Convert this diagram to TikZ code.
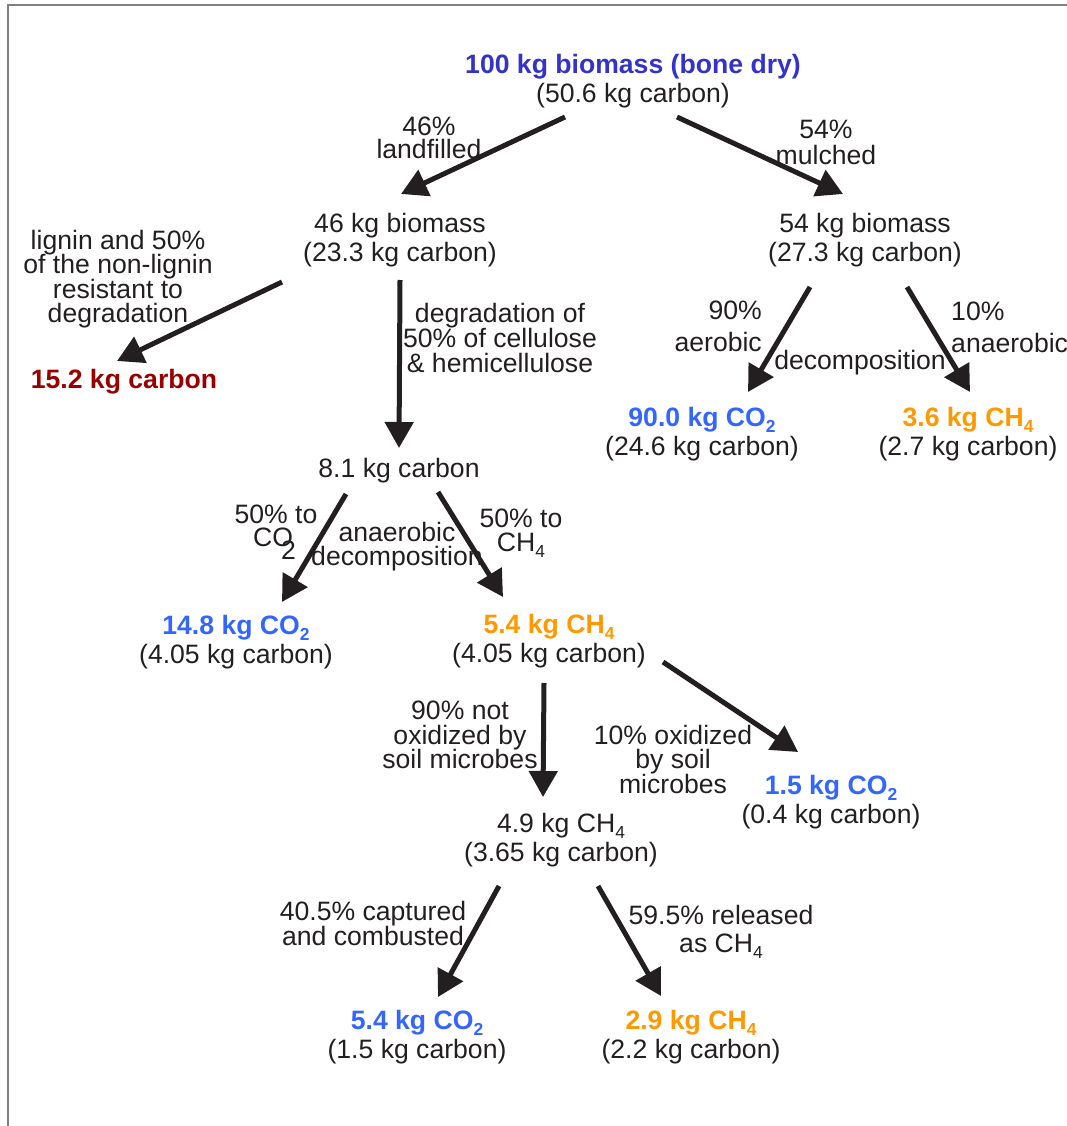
\documentclass[tikz,border=0pt]{standalone}
\usepackage{fontspec}
\setmainfont{Liberation Sans}[Ligatures=NoCommon]
\usetikzlibrary{arrows.meta,calc}
\definecolor{ink}{HTML}{231F20}
\definecolor{titleblue}{HTML}{3333CC}
\definecolor{co2blue}{HTML}{3366FF}
\definecolor{ch4orange}{HTML}{FF9900}
\definecolor{resred}{HTML}{990000}
\definecolor{framegray}{HTML}{808080}
\newcommand\lowsub[1]{\raisebox{-6pt}{\fontsize{17.4}{17.4}\selectfont #1}}
\tikzset{
  txt/.style={font={\fontsize{26.6}{29}\selectfont\lineskiplimit=-50pt}, align=center, inner sep=0pt, text=ink},
  lbl/.style={font={\fontsize{26.6}{#1}\selectfont\lineskiplimit=-50pt}, align=center, inner sep=0pt, text=ink},
  lbl/.default=24.5,
  arr/.style={draw=ink, line width=5pt, -{Triangle[length=26pt,width=28pt]}},
}
\begin{document}
\begin{tikzpicture}[x=1pt,y=-1pt]
\useasboundingbox (0,0) rectangle (1067,1126);
\draw[framegray, line width=1.8pt] (8,1126) -- (8,5) -- (1067,5);

% nodes
\node[txt] (n100) at (633,81) {{\color{titleblue}\bfseries 100 kg biomass (bone dry)}\\(50.6 kg carbon)};
\node[lbl=23.5] (l46) at (429,138) {46\%\\landfilled};
\node[lbl=26] (l54) at (826,142) {54\%\\mulched};
\node[txt] (n46) at (400,240) {46 kg biomass\\(23.3 kg carbon)};
\node[txt] (n54) at (865,240) {54 kg biomass\\(27.3 kg carbon)};
\node[lbl] (lig) at (118,279) {lignin and 50\%\\of the non-lignin\\resistant to\\degradation};
\node[txt, text=resred, font={\fontsize{26.6}{29}\selectfont\bfseries}] (n152) at (124,382) {15.2 kg carbon};
\node[lbl=25] (ldeg) at (500,338) {degradation of\\50\% of cellulose\\\& hemicellulose};
\node[lbl=32, anchor=east, align=right] (l90) at (762,326) {90\%\\aerobic};
\node[lbl] (ldec) at (860,363) {decomposition};
\node[lbl=32, anchor=west, align=left] (l10) at (951,327) {10\%\\anaerobic};
\node[txt] (n90) at (702,434) {{\color{co2blue}\bfseries 90.0 kg CO\lowsub{2}}\\(24.6 kg carbon)};
\node[txt] (n36) at (968,434) {{\color{ch4orange}\bfseries 3.6 kg CH\lowsub{4}}\\(2.7 kg carbon)};
\node[txt] (n81) at (399,471) {8.1 kg carbon};
\node[lbl=23] (l50a) at (276,532) {50\% to\\CO\kern-12pt\raisebox{-12.5pt}{\fontsize{26.6}{26.6}\selectfont 2}\kern3pt};
\node[lbl=24] (lan) at (397,547) {anaerobic\\decomposition};
\node[lbl=24] (l50b) at (521,533) {50\% to\\CH\lowsub{4}};
\node[txt] (n148) at (236,642) {{\color{co2blue}\bfseries 14.8 kg CO\lowsub{2}}\\(4.05 kg carbon)};
\node[txt] (n54ch4) at (549,641) {{\color{ch4orange}\bfseries 5.4 kg CH\lowsub{4}}\\(4.05 kg carbon)};
\node[lbl] (l90n) at (460,735) {90\% not\\oxidized by\\soil microbes};
\node[lbl] (l10o) at (673,759) {10\% oxidized\\by soil\\microbes};
\node[txt] (n15) at (831,802) {{\color{co2blue}\bfseries 1.5 kg CO\lowsub{2}}\\(0.4 kg carbon)};
\node[txt] (n49) at (561,840) {4.9 kg CH\lowsub{4}\\(3.65 kg carbon)};
\node[lbl=25] (l405) at (373,923) {40.5\% captured\\and combusted};
\node[lbl=28] (l595) at (721,932) {59.5\% released\\as CH\lowsub{4}};
\node[txt] (n54co2) at (417,1037) {{\color{co2blue}\bfseries 5.4 kg CO\lowsub{2}}\\(1.5 kg carbon)};
\node[txt] (n29) at (691,1037) {{\color{ch4orange}\bfseries 2.9 kg CH\lowsub{4}}\\(2.2 kg carbon)};

% connectors
\draw[arr] ($(n100)+(-68,36)$) -- ($(n46)+(1,-46)$);
\draw[arr] ($(n100)+(44,36)$) -- ($(n54)+(-22,-46)$);
\draw[arr] ($(n46)+(-118,42)$) -- ($(n152)+(-7,-21)$);
\draw[arr] ($(n46)+(0,40)$) -- ($(n81)+(0,-23)$);
\draw[arr] ($(n54)+(-55,47)$) -- ($(n90)+(46,-42)$);
\draw[arr] ($(n54)+(42,47)$) -- ($(n36)+(2,-42)$);
\draw[arr] ($(n81)+(-53,23)$) -- ($(n148)+(46,-40)$);
\draw[arr] ($(n81)+(39,21)$) -- ($(n54ch4)+(-46,-44)$);
\draw[arr] ($(n54ch4)+(-5,42)$) -- ($(n49)+(-18,-43)$);
\draw[arr] ($(n54ch4)+(114,21)$) -- ($(n15)+(-33,-50)$);
\draw[arr] ($(n49)+(-62,46)$) -- ($(n54co2)+(21,-40)$);
\draw[arr] ($(n49)+(37,46)$) -- ($(n29)+(-30,-41)$);
\end{tikzpicture}
\end{document}
